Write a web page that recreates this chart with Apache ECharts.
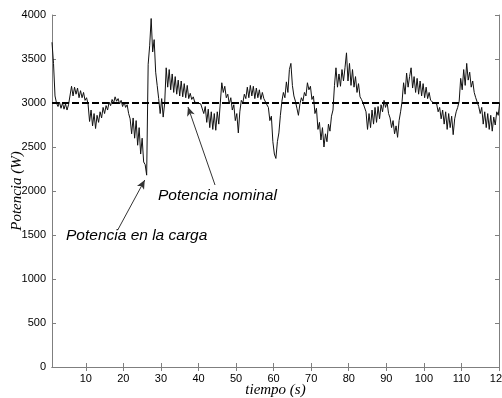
<!DOCTYPE html>
<html>
<head>
<meta charset="utf-8">
<script src="https://cdn.jsdelivr.net/npm/echarts@6/dist/echarts.min.js"></script>
<style>
  html, body { margin: 0; padding: 0; background: #fff; }
  #chart { width: 502px; height: 398px; }
</style>
</head>
<body>
<div id="chart"></div>
<script>
// muestreo de la señal (s)
var t0 = 1;
var dt = 0.4;
// potencia en la carga (W)
var potencia = [
  3690, 3450, 3080, 3000, 2960, 3010, 2940, 3000, 2930, 2990,
  2920, 2980, 2960, 3190, 3080, 3180, 3100, 3170, 3060, 3140,
  3060, 3120, 3030, 3060, 2990, 2790, 2920, 2740, 2880, 2710,
  2860, 2780, 2900, 2830, 2950, 2880, 2970, 2920, 3010, 2970,
  3040, 3000, 3070, 3020, 3050, 2990, 3030, 2960, 3010, 2950,
  2980, 2880, 2820, 2650, 2830, 2600, 2800, 2520, 2720, 2420,
  2600, 2330, 2300, 2180, 3440, 3650, 3960, 3580, 3720, 3350,
  3200, 3050, 2880, 3050, 2840, 3000, 3400, 3180, 3380, 3150,
  3330, 3120, 3300, 3100, 3260, 3080, 3250, 3070, 3220, 3060,
  3200, 3050, 3110, 3040, 3070, 3010, 3020, 3000, 3010, 2990,
  2980, 2880, 2960, 2780, 2930, 2720, 2900, 2700, 2880, 2690,
  2900, 2760, 3000, 3230, 3120, 3190, 3060, 3100, 2990, 3060,
  2920, 2980, 2800, 2880, 2660, 2900, 3030, 3000, 3100, 3050,
  3180, 3060, 3200, 3080, 3190, 3050, 3170, 3060, 3150, 3040,
  3120, 3050, 3060, 2980, 2950, 2800, 2850, 2560, 2420, 2370,
  2560, 2660, 2860, 3020, 3120, 3060, 3240, 3120, 3380, 3450,
  3200, 3080, 3020, 2940, 2860, 2990, 3060, 3020, 3120, 3080,
  3230, 3150, 3190, 3040, 3080, 2880, 2940, 2700, 2780, 2580,
  2720, 2500, 2650, 2560, 2760, 2680, 2850, 2920, 3200, 3400,
  3180, 3330, 3190, 3380, 3250, 3400, 3570, 3250, 3450, 3200,
  3380, 3180, 3300, 3120, 3220, 3070, 3040, 3000, 2990, 2900,
  2700, 2880, 2720, 2920, 2760, 2950, 2780, 2960, 2820, 2980,
  2900, 3030, 2950, 3010, 2880, 2830, 2720, 2800, 2650, 2740,
  2610, 2800, 2900, 3020, 3230, 3100, 3340, 3180, 3300, 3400,
  3170, 3300, 3120, 3280, 3100, 3250, 3080, 3220, 3060, 3180,
  3050, 3120, 3030, 3050, 3000, 3010, 2990, 2900, 2950, 2820,
  2920, 2760, 2900, 2700, 2880, 2720, 2850, 2640, 2820, 2900,
  2950, 3020, 3280, 3150, 3380, 3200, 3450, 3260, 3350, 3180,
  3250, 3120, 3060, 3010, 2960, 2880, 2950, 2760, 2900, 2720,
  2880, 2700, 2860, 2680, 2840, 2750, 2900, 2860, 3010
];
var potenciaNominal = 3000;
var xTicks = [10, 20, 30, 40, 50, 60, 70, 80, 90, 100, 110, 120];

var senal = potencia.map(function (p, i) {
  return [+(t0 + i * dt).toFixed(2), p];
});

var chartDom = document.getElementById("chart");
var myChart = echarts.init(chartDom);
var axisGray = "#7f7f7f";
var option = {
  animation: false,
  grid: { left: 52, right: 3, top: 15, bottom: 31, outerBoundsMode: "none", containLabel: false },
  xAxis: [
    {
      type: "value",
      min: 1,
      max: 120,
      name: "tiempo (s)",
      nameLocation: "middle",
      nameGap: 16,
      nameMoveOverlap: false,
      nameTextStyle: {
        fontFamily: "Liberation Serif",
        fontStyle: "italic",
        fontSize: 15,
        color: "#000",
      },
      axisLine: { lineStyle: { color: axisGray } },
      axisTick: { inside: true, length: 4, customValues: xTicks, lineStyle: { color: axisGray } },
      axisLabel: {
        customValues: xTicks,
        color: "#000",
        fontFamily: "Liberation Sans",
        fontSize: 11,
        margin: 6,
        hideOverlap: false,
        formatter: function (v) { return String(v); },
      },
      splitLine: { show: false },
    },
    {
      type: "value",
      position: "top",
      min: 1,
      max: 120,
      axisLine: { lineStyle: { color: axisGray } },
      axisTick: { inside: true, length: 4, customValues: xTicks, lineStyle: { color: axisGray } },
      axisLabel: { show: false },
      splitLine: { show: false },
    },
  ],
  yAxis: [
    {
      type: "value",
      min: 0,
      max: 4000,
      interval: 500,
      name: "Potencia (W)",
      nameLocation: "middle",
      nameGap: 27,
      nameMoveOverlap: false,
      nameTextStyle: {
        fontFamily: "Liberation Serif",
        fontStyle: "italic",
        fontSize: 15,
        color: "#000",
      },
      axisLine: { show: true, lineStyle: { color: axisGray } },
      axisTick: { show: true, inside: true, length: 4, lineStyle: { color: axisGray } },
      axisLabel: {
        color: "#000",
        fontFamily: "Liberation Sans",
        fontSize: 11,
        margin: 6,
        formatter: function (v) { return String(v); },
      },
      splitLine: { show: false },
    },
    {
      type: "value",
      position: "right",
      min: 0,
      max: 4000,
      interval: 500,
      axisLine: { show: true, lineStyle: { color: axisGray } },
      axisTick: { show: true, inside: true, length: 4, lineStyle: { color: axisGray } },
      axisLabel: { show: false },
      splitLine: { show: false },
    },
  ],
  series: [
    {
      name: "Potencia en la carga",
      type: "line",
      data: senal,
      showSymbol: false,
      lineStyle: { color: "#111", width: 1 },
      markLine: {
        silent: true,
        symbol: ["none", "arrow"],
        symbolSize: [6, 9],
        label: { show: false },
        lineStyle: { color: "#333", width: 1, type: "solid" },
        data: [
          [{ coord: [18.5, 1557] }, { coord: [25.7, 2125] }],
          [{ coord: [44.4, 2068] }, { coord: [37.2, 2955] }],
        ],
      },
    },
    {
      name: "Potencia nominal",
      type: "line",
      data: [[1, potenciaNominal], [120, potenciaNominal]],
      showSymbol: false,
      lineStyle: { color: "#000", width: 2, type: [7, 3] },
    },
  ],
  graphic: [
    {
      type: "text",
      left: 158,
      top: 188,
      style: {
        text: "Potencia nominal",
        fontFamily: "Liberation Sans",
        fontStyle: "italic",
        fontSize: 15.5,
        fill: "#000",
      },
    },
    {
      type: "text",
      left: 66,
      top: 228,
      style: {
        text: "Potencia en la carga",
        fontFamily: "Liberation Sans",
        fontStyle: "italic",
        fontSize: 15.5,
        fill: "#000",
      },
    },
  ],
};
option && myChart.setOption(option);
</script>
</body>
</html>
